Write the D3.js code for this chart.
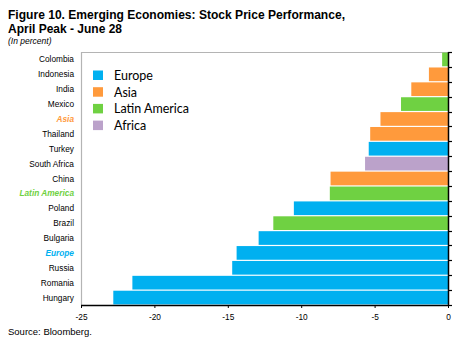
<!DOCTYPE html>
<html><head><meta charset="utf-8">
<script src="https://cdn.jsdelivr.net/npm/d3@7"></script>
<style>body{margin:0;background:#fff}svg{display:block}</style>
</head><body>
<script>
const categories = ["Colombia","Indonesia","India","Mexico","Asia","Thailand","Turkey","South Africa","China","Latin America","Poland","Brazil","Bulgaria","Europe","Russia","Romania","Hungary"];
const values = [-0.4,-1.3,-2.5,-3.2,-4.6,-5.3,-5.4,-5.65,-8.0,-8.05,-10.5,-11.9,-12.9,-14.4,-14.7,-21.5,-22.8];
const regions = ["Latin America","Asia","Asia","Latin America","Asia","Asia","Europe","Africa","Asia","Latin America","Europe","Latin America","Europe","Europe","Europe","Europe","Europe"];
const aggregates = ["Asia","Latin America","Europe"];
const legendItems = ["Europe","Asia","Latin America","Africa"];
const xTicks = [-25,-20,-15,-10,-5,0];
const colors = {"Europe":"#00B0F0","Asia":"#FF9A3C","Latin America":"#6FD142","Africa":"#BBA2CA"};
const labelColors = {"Europe":"#00B0F0","Asia":"#FF9A3C","Latin America":"#6FD142"};

const W=457,H=339;
const svg=d3.select("body").append("svg").attr("width",W).attr("height",H);
const L=81, R=448, T=52, B=305;
const x=d3.scaleLinear().domain([-25,0]).range([L,R]);
const y=d3.scaleBand().domain(categories).range([T,B]).paddingInner(0.08).paddingOuter(0.04);
const yb=d3.scaleBand().domain(categories).range([T,B]);

// title
const title=svg.append("g").attr("font-family","Liberation Sans, Arial, sans-serif").attr("font-weight","bold").attr("font-size","12.8px").attr("fill","#000");
title.append("text").attr("x",8).attr("y",19).attr("textLength",337).attr("lengthAdjust","spacingAndGlyphs").text("Figure 10. Emerging Economies: Stock Price Performance,");
title.append("text").attr("x",8).attr("y",33).attr("textLength",114).attr("lengthAdjust","spacingAndGlyphs").text("April Peak  - June 28");
svg.append("text").attr("x",8).attr("y",44).attr("font-family","Liberation Sans, Arial, sans-serif").attr("font-style","italic").attr("font-size","8.5px").text("(In percent)");

// frame
svg.append("line").attr("x1",L).attr("x2",R).attr("y1",T+0.5).attr("y2",T+0.5).attr("stroke","#b4b4b4").attr("stroke-width",1.2);
svg.append("line").attr("x1",L+0.5).attr("x2",L+0.5).attr("y1",T).attr("y2",B).attr("stroke","#b4b4b4").attr("stroke-width",1.2);

// bars
svg.append("g").selectAll("rect").data(categories).join("rect")
  .attr("x",(d,i)=>x(values[i]))
  .attr("width",(d,i)=>x(0)-x(values[i]))
  .attr("y",d=>y(d))
  .attr("height",y.bandwidth())
  .attr("fill",(d,i)=>colors[regions[i]]);

// category labels
svg.append("g").selectAll("text").data(categories).join("text")
  .attr("x",74).attr("y",d=>y(d)+y.bandwidth()/2+3)
  .attr("text-anchor","end")
  .attr("font-family","Liberation Sans, Arial, sans-serif")
  .attr("font-size","8.3px")
  .attr("font-weight",d=>aggregates.includes(d)?"bold":"normal")
  .attr("font-style",d=>aggregates.includes(d)?"italic":"normal")
  .attr("fill",d=>aggregates.includes(d)?labelColors[d]:"#000")
  .text(d=>d);

// x axis
const xa=svg.append("g").attr("transform",`translate(0,${B})`)
  .call(d3.axisBottom(x).tickValues(xTicks).tickSize(3).tickFormat(d3.format("d")));
xa.select(".domain").attr("stroke","#000").attr("stroke-width",1.5).attr("d",`M${L},0.5H${R}`);
xa.selectAll(".tick line").attr("stroke","#000");
xa.selectAll(".tick text").attr("font-family","Liberation Sans, Arial, sans-serif").attr("font-size","8.3px").attr("dy","0.9em").attr("y",8).attr("fill","#000")
  .text(d=>d<0?"-"+Math.abs(d):d);

// zero axis with tick marks on boundaries
const za=svg.append("g");
za.append("line").attr("x1",R+0.5).attr("x2",R+0.5).attr("y1",T).attr("y2",B+1).attr("stroke","#000").attr("stroke-width",1.5);
const bounds=categories.map(c=>yb(c)).concat([B]);
za.selectAll("line.tk").data(bounds).join("line").attr("class","tk")
  .attr("x1",R).attr("x2",R+4).attr("y1",d=>Math.round(d)+0.5).attr("y2",d=>Math.round(d)+0.5)
  .attr("stroke","#000").attr("stroke-width",1.2);

// legend
const lg=svg.append("g").attr("transform","translate(93,70.5)");
legendItems.forEach((k,i)=>{
  lg.append("rect").attr("x",0).attr("y",i*16.7).attr("width",10).attr("height",9.5).attr("fill",colors[k]);
  lg.append("text").attr("x",21).attr("y",i*16.7+9.5).attr("font-family","Lato, Open Sans, sans-serif").attr("font-size","12.5px").attr("fill","#000").text(k);
});

// source
svg.append("text").attr("x",8).attr("y",335).attr("font-family","Liberation Sans, Arial, sans-serif").attr("font-size","9.5px").text("Source: Bloomberg.");
</script>
</body></html>
